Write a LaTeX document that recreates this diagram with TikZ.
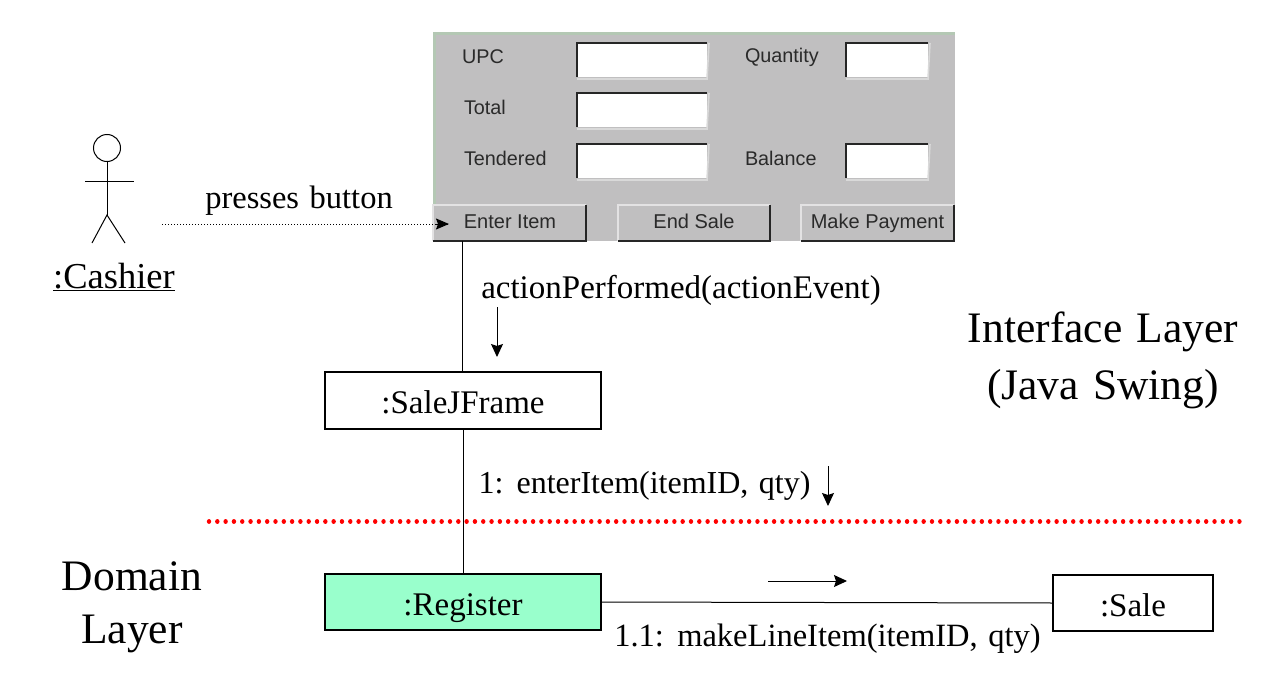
\documentclass[tikz,border=0pt]{standalone}
\usepackage{fontspec}
\setmainfont{Liberation Serif}[WordSpace=1.3]
\newfontfamily\uifont{Liberation Sans}
\usetikzlibrary{arrows.meta}
\definecolor{panelgrey}{HTML}{C0BFC0}
\definecolor{paneledge}{HTML}{B4C8B4}
\definecolor{mint}{HTML}{99FFCC}
\definecolor{uitext}{HTML}{2A2A2A}
\tikzset{
  x=1pt,y=-1pt,
  every node/.style={inner sep=0pt,outer sep=0pt},
  conn/.style={draw=black,line width=1pt},
  small arrow/.style={conn,-{Stealth[length=13pt,width=12pt,inset=2pt]}},
  boxnode/.style={draw=black,line width=1.1pt,anchor=north west,text height=28pt,text depth=2pt,font=\fontsize{33}{38}\selectfont},
  msg/.style={anchor=base,font=\fontsize{33}{38}\selectfont},
  layer/.style={anchor=base,font=\fontsize{43.5}{50}\selectfont},
  field/.style={fill=white,anchor=north west,minimum height=34pt},
  uilabel/.style={anchor=base west,text=uitext,font=\uifont\fontsize{19.8}{24}\selectfont},
  uibutton/.style={fill=panelgrey,anchor=north west,minimum height=36pt,text height=15pt,text depth=5pt,text=uitext,font=\uifont\fontsize{20}{24}\selectfont}
}
\newcommand{\uifield}[4]{%
  \node[field,minimum width=#4pt] (#1) at (#2,#3) {};
  \draw[line width=1.4pt,draw=black!85] (#1.south west) -- (#1.north west) -- (#1.north east);
  \draw[line width=1.6pt,draw=white!85!black] ([yshift=-2pt]#1.south west) -- ([yshift=-2pt]#1.south east) -- ([xshift=2pt]#1.north east);
}
\newcommand{\uibtn}[5]{%
  \node[uibutton,minimum width=#4pt] (#1) at (#2,#3) {#5};
  \draw[line width=1.2pt,draw=white!55!panelgrey] (#1.south west) -- (#1.north west) -- (#1.north east);
  \draw[line width=1.5pt,draw=black!85] (#1.south west) -- (#1.south east) -- (#1.north east);
}
\begin{document}
\begin{tikzpicture}
\useasboundingbox (0,0) rectangle (1264,677);
% panel
\node[fill=panelgrey,anchor=north west,minimum width=522pt,minimum height=209pt] (panel) at (433,32) {};
\draw[line width=3pt,draw=paneledge] ([yshift=-1.5pt]panel.north west) -- ([yshift=-1.5pt]panel.north east);
\draw[line width=3pt,draw=paneledge] ([xshift=1.5pt]panel.north west) -- ([xshift=1.5pt]panel.south west);
\node[uilabel] (lupc) at (462,64) {UPC};
\node[uilabel] (ltotal) at (464,114) {Total};
\node[uilabel] (ltend) at (464,165) {Tendered};
\node[uilabel] (lqty) at (745,63) {Quantity};
\node[uilabel] (lbal) at (745,165) {Balance};
\uifield{f1}{577}{43}{130}
\uifield{f2}{577}{93}{130}
\uifield{f3}{577}{144}{130}
\uifield{f4}{846}{43}{82}
\uifield{f5}{846}{144}{82}
\uibtn{enter}{433}{205}{153}{\hspace*{1pt}Enter Item}
\uibtn{endsale}{618}{205}{152}{End Sale}
\uibtn{pay}{801}{205}{153}{Make Payment}
% actor
\node[draw=black,line width=1pt,circle,minimum size=27pt] (head) at (107,148) {};
\coordinate (hip) at (107,215);
\coordinate (armL) at (85,181);
\coordinate (armR) at (134,181);
\coordinate (footL) at (92,243);
\coordinate (footR) at (125,243);
\draw[conn] (head.south) -- (hip);
\draw[conn] (armL) -- (armR);
\draw[conn] (footL) -- (hip) -- (footR);
\node[msg,font=\fontsize{36.5}{42}\selectfont] (cashier) at (114,288.5) {\underline{:Cashier}};
% presses
\node[msg,font=\fontsize{32.5}{38}\selectfont] (presses) at (299,208) {presses button};
\coordinate (pstart) at (162,224);
\coordinate (pend) at (449,224);
\draw[line width=1pt,dotted] (pstart) -- (pend);
\draw[-{Stealth[length=13pt,width=11pt,inset=2pt]},line width=1pt] ([xshift=-13pt]pend) -- (pend);
% boxes
\node[boxnode,minimum width=276pt,minimum height=57pt] (frame) at (325,372) {:SaleJFrame};
\node[boxnode,fill=mint,minimum width=276pt,minimum height=56pt] (reg) at (325,574) {:Register};
\node[boxnode,minimum width=160pt,minimum height=56pt] (sale) at (1053,575) {:Sale};
% connectors
\draw[conn] (frame.north -| 462,0) -- (enter.south -| 462,0);
\draw[conn] (frame.south) -- (reg.north);
\draw[conn] (reg.east) -- (sale.west);
% messages
\node[msg] (m1) at (681,298) {actionPerformed(actionEvent)};
\coordinate (a1s) at (497,307); \coordinate (a1e) at (497,357);
\draw[small arrow] (a1s) -- (a1e);
\node[msg,font=\fontsize{32}{38}\selectfont] (m2) at (644.5,493) {1: enterItem(itemID, qty)};
\coordinate (a2s) at (828,466); \coordinate (a2e) at (828,506);
\draw[small arrow] (a2s) -- (a2e);
\coordinate (a3s) at (768,581); \coordinate (a3e) at (847,581);
\draw[small arrow] (a3s) -- (a3e);
\node[msg,font=\fontsize{32.5}{38}\selectfont] (m3) at (827.5,646) {1.1: makeLineItem(itemID, qty)};
% separator
\coordinate (sepL) at (209,521.5); \coordinate (sepR) at (1240,521.5);
\draw[red,line width=4.4pt,line cap=round,dash pattern=on 0.01pt off 8.3pt] (sepL) -- (sepR);
% layers
\node[layer] (il1) at (1103,342) {Interface Layer};
\node[layer] (il2) at (1103,399) {(Java Swing)};
\node[layer] (dl1) at (132,590) {Domain};
\node[layer] (dl2) at (132,643) {Layer};
\end{tikzpicture}
\end{document}
